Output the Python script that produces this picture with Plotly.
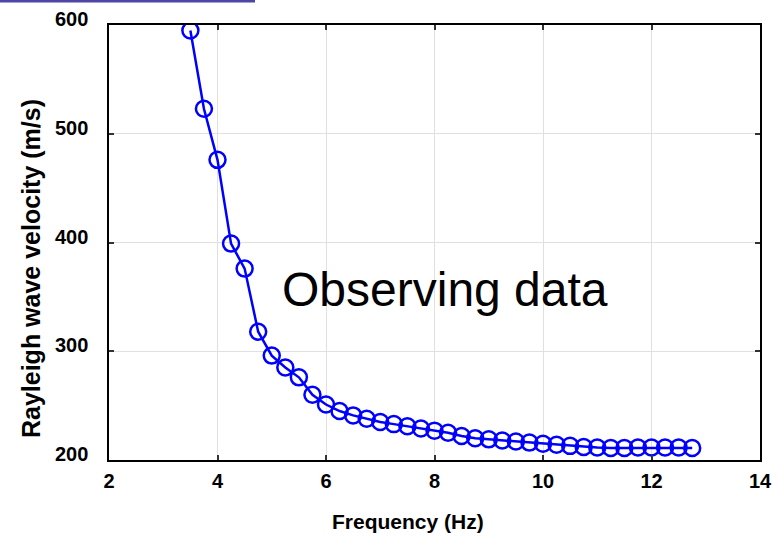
import plotly.graph_objects as go

# Dispersion curve: Rayleigh wave phase velocity vs frequency
frequency_hz = [3.5, 3.75, 4.0, 4.25, 4.5, 4.75, 5.0, 5.25, 5.5, 5.75,
                6.0, 6.25, 6.5, 6.75, 7.0, 7.25, 7.5, 7.75, 8.0, 8.25,
                8.5, 8.75, 9.0, 9.25, 9.5, 9.75, 10.0, 10.25, 10.5, 10.75,
                11.0, 11.25, 11.5, 11.75, 12.0, 12.25, 12.5, 12.75]
velocity_ms = [595, 523, 476, 399, 376, 318, 296, 285, 276, 260,
               251, 245, 241, 238, 235, 233, 231, 229, 227, 225,
               222, 220, 219, 218, 217, 216, 215, 214, 213, 212,
               211.5, 211, 211, 211.5, 211.5, 211.5, 211.5, 211]

x_ticks = [2, 4, 6, 8, 10, 12, 14]
y_ticks = [200, 300, 400, 500, 600]

FONT = "Liberation Sans, Arial, sans-serif"
TICK_FONT = dict(family=FONT, size=20, color="black", weight="bold")

fig = go.Figure()
fig.add_trace(go.Scatter(
    x=frequency_hz, y=velocity_ms,
    mode="lines+markers",
    line=dict(color="#0000ff", width=2.5),
    marker=dict(symbol="circle-open", size=16, color="#0000ff",
                line=dict(color="#0000ff", width=2.5)),
    showlegend=False,
))

axis_common = dict(
    showline=True, linecolor="black", linewidth=1.5, mirror="ticks",
    ticks="inside", ticklen=5, tickwidth=1.5, tickcolor="#333333",
    showgrid=True, gridcolor="#e0e0e0", gridwidth=1,
    zeroline=False, automargin=False, ticklabeloverflow="allow",
    tickfont=TICK_FONT,
)

fig.update_xaxes(
    range=[2, 14], tickvals=x_ticks, ticktext=[str(v) for v in x_ticks],
    ticklabelstandoff=2,
    **axis_common,
)
fig.update_yaxes(
    range=[200, 600], tickvals=y_ticks, showticklabels=False,
    **axis_common,
)

# y tick labels, set slightly above their tick marks
for v in y_ticks:
    fig.add_annotation(
        x=0, y=v, xref="paper", yref="y",
        xanchor="right", yanchor="middle", xshift=-19, yshift=6,
        text=str(v), showarrow=False, font=TICK_FONT,
    )

# axis titles
fig.add_annotation(
    x=(408 - 109) / 651, y=-0.1425, xref="paper", yref="paper",
    xanchor="center", yanchor="middle",
    text="<b>Frequency (Hz)</b>", showarrow=False,
    font=dict(family=FONT, size=21, color="black"),
)
fig.add_annotation(
    x=-0.1200, y=0.441, xref="paper", yref="paper",
    xanchor="center", yanchor="middle",
    text="<b>Rayleigh wave velocity (m/s)</b>", showarrow=False, textangle=-90,
    font=dict(family=FONT, size=25, color="black"),
)

fig.add_annotation(
    x=8.19, y=357, xref="x", yref="y",
    text="Observing data", showarrow=False,
    font=dict(family=FONT, size=48, color="black"),
)

# thin header rule at the top-left of the page
fig.add_shape(
    type="line", xref="paper", yref="paper",
    x0=-109 / 651, x1=146 / 651, y0=1 + 24 / 435, y1=1 + 24 / 435,
    line=dict(color="#4f45a5", width=3),
)

fig.update_layout(
    width=781, height=542,
    margin=dict(l=109, r=21, t=25, b=82),
    paper_bgcolor="white", plot_bgcolor="white",
    font=dict(family=FONT, color="black"),
)

fig.write_html("out.html")
